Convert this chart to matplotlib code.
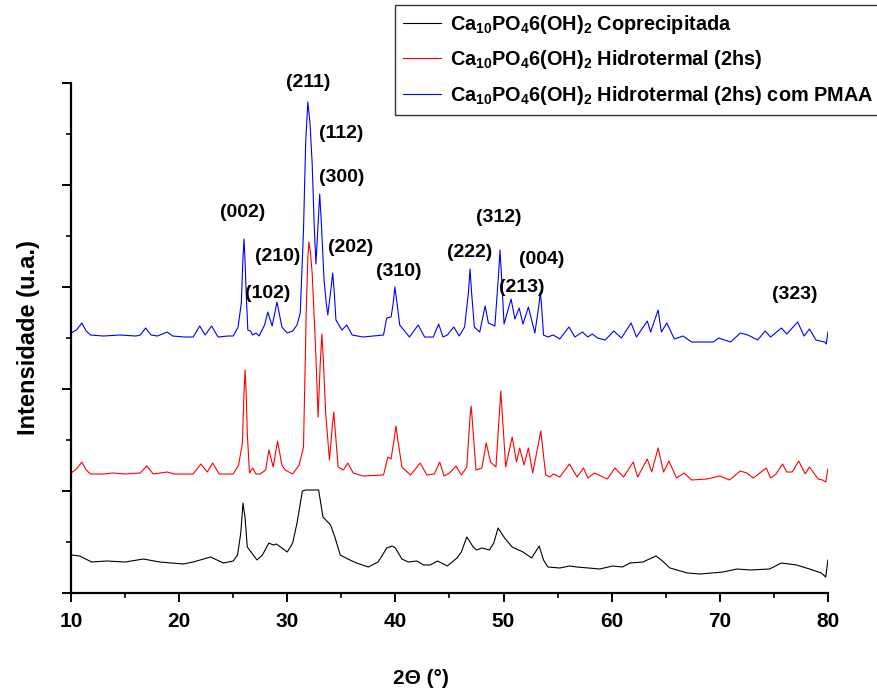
import matplotlib
matplotlib.use("Agg")
import matplotlib.pyplot as plt
from matplotlib.ticker import MultipleLocator

plt.rcParams['font.family'] = ['Liberation Sans', 'DejaVu Sans']
plt.rcParams['mathtext.fontset'] = 'custom'
plt.rcParams['mathtext.rm'] = 'Liberation Sans:bold'
plt.rcParams['mathtext.bf'] = 'Liberation Sans:bold'
plt.rcParams['mathtext.default'] = 'bf'

# ---- data (2theta in degrees, intensity in arbitrary units) ----
theta_blue = [10.0, 10.5, 11.0, 11.4, 11.8, 13.0, 14.5, 16.0, 16.4, 16.9, 17.4, 18.0, 18.9, 19.4,
              20.5, 21.3, 21.9, 22.4, 23.0, 23.6, 24.5, 25.0, 25.45, 25.75, 25.9, 26.0, 26.1,
              26.2, 26.35, 26.6, 26.8, 27.1, 27.4, 27.9, 28.2, 28.6, 29.05, 29.5, 30.0, 30.5,
              30.9, 31.2, 31.5, 31.7, 31.9, 32.1, 32.3, 32.5, 32.65, 32.85, 33.0, 33.15, 33.4,
              33.6, 33.75, 34.05, 34.2, 34.35, 34.5, 35.05, 35.5, 36.0, 37.0, 38.0, 38.9,
              39.2, 39.6, 39.8, 39.95, 40.15, 40.4, 41.3, 42.1, 42.7, 43.5, 44.0, 44.4, 44.8,
              45.4, 45.9, 46.4, 46.75, 46.9, 47.05, 47.3, 47.8, 48.3, 48.6, 49.2, 49.55, 49.67,
              49.8, 50.05, 50.7, 51.05, 51.45, 51.8, 52.3, 52.9, 53.3, 53.4, 53.5, 53.7, 54.1,
              54.6, 55.2, 56.05, 56.6, 57.3, 57.8, 58.2, 58.7, 59.4, 60.2, 60.9, 61.8, 62.3,
              63.3, 63.6, 64.3, 64.6, 65.1, 65.8, 66.6, 67.4, 68.5, 69.4, 69.9, 71.0, 71.9,
              72.6, 73.5, 74.2, 74.7, 75.7, 76.2, 77.2, 77.8, 78.3, 78.9, 79.7, 79.85, 80.0]
int_blue = [260, 263, 270, 262, 258, 257, 258, 257, 258, 265, 258, 257, 261, 257,
            256, 256, 267, 258, 267, 256, 257, 257, 266, 290, 335, 354, 330,
            300, 263, 262, 258, 260, 257, 268, 281, 267, 291, 266, 260, 262,
            268, 280, 363, 450, 491, 470, 430, 365, 329, 370, 399, 370, 313,
            290, 278, 305, 320, 300, 273, 263, 268, 258, 256, 257, 258,
            275, 276, 290, 306, 290, 268, 256, 268, 256, 256, 269, 256, 258,
            266, 257, 266, 300, 324, 300, 266, 261, 287, 270, 267, 320, 343,
            320, 269, 294, 274, 285, 269, 286, 260, 290, 301, 290, 258, 256,
            258, 254, 266, 256, 261, 256, 259, 255, 253, 262, 255, 270, 256,
            272, 261, 283, 261, 270, 254, 257, 251, 251, 251, 255, 251, 260,
            258, 253, 262, 256, 265, 259, 271, 257, 264, 253, 251, 249, 261]

theta_red = [10.0, 10.5, 11.0, 11.4, 11.8, 13.0, 13.9, 15.0, 16.4, 17.0, 17.6, 18.9, 19.5, 20.5,
             21.3, 22.0, 22.6, 23.1, 23.7, 25.0, 25.5, 25.85, 26.0, 26.1, 26.2, 26.3, 26.5,
             26.8, 27.1, 27.5, 28.0, 28.3, 28.7, 29.1, 29.5, 29.8, 30.5, 31.1, 31.5, 31.75,
             31.9, 32.0, 32.15, 32.3, 32.6, 32.85, 33.05, 33.2, 33.35, 33.55, 33.9, 34.15,
             34.3, 34.45, 34.7, 35.2, 35.6, 36.1, 37.0, 38.9, 39.3, 39.6, 39.9, 40.05, 40.2,
             40.6, 41.4, 42.3, 42.9, 43.6, 44.1, 44.5, 45.0, 45.6, 46.1, 46.6, 46.9, 47.0,
             47.1, 47.45, 48.0, 48.4, 48.8, 49.3, 49.65, 49.75, 49.85, 50.2, 50.8, 51.2, 51.5,
             51.9, 52.3, 52.7, 53.45, 53.9, 54.3, 54.6, 55.2, 56.1, 56.8, 57.4, 57.8, 58.4,
             59.6, 60.3, 61.1, 62.0, 62.4, 63.3, 63.7, 64.3, 64.8, 65.3, 66.0, 66.7, 67.4,
             68.8, 70.0, 70.9, 71.9, 72.5, 73.1, 74.3, 74.7, 75.2, 75.8, 76.2, 76.7, 77.3,
             77.9, 78.3, 79.1, 79.5, 79.8, 80.0]
int_red = [120, 124, 131, 123, 119, 119, 120, 119, 120, 127, 119, 121, 119, 119,
           119, 129, 121, 130, 119, 119, 128, 150, 200, 223, 200, 160, 120,
           125, 119, 119, 123, 143, 126, 152, 128, 123, 119, 128, 146, 280,
           335, 351, 340, 320, 250, 176, 230, 259, 230, 180, 133, 165,
           181, 160, 126, 123, 130, 120, 117, 118, 136, 134, 155, 167, 155,
           126, 118, 130, 118, 119, 131, 117, 120, 127, 118, 126, 175, 187,
           175, 123, 125, 150, 131, 126, 185, 202, 185, 126, 156, 131, 145,
           128, 145, 120, 162, 118, 116, 119, 116, 129, 116, 125, 115, 120,
           114, 125, 116, 131, 116, 134, 121, 145, 121, 132, 115, 120, 113,
           114, 117, 113, 122, 120, 115, 125, 115, 119, 129, 121, 121, 132,
           119, 126, 114, 113, 111, 124]

theta_black = [10.0, 10.8, 11.9, 13.3, 15.0, 16.7, 18.2, 20.4, 21.3, 22.9, 24.1, 25.0, 25.4,
               25.7, 25.9, 26.1, 26.3, 27.2, 27.7, 28.3, 28.7, 29.0, 30.0, 30.5, 30.9, 31.4,
               31.7, 32.9, 33.3, 34.0, 34.4, 34.9, 35.6, 36.4, 37.5, 38.4, 39.2, 39.7, 40.0,
               40.6, 41.2, 42.0, 42.6, 43.2, 43.9, 44.8, 45.7, 46.1, 46.6, 47.2, 47.5, 48.0,
               48.7, 49.1, 49.5, 50.1, 50.8, 51.8, 52.6, 53.3, 53.7, 54.1, 55.2, 56.1, 56.8,
               58.9, 60.1, 61.0, 61.7, 62.9, 64.1, 64.6, 65.4, 67.0, 68.2, 70.3, 71.6, 72.8,
               74.6, 75.7, 77.1, 78.3, 79.4, 79.8, 80.0]
int_black = [38, 37, 31, 32, 31, 34, 31, 29, 31, 36, 30, 32, 38,
             60, 90, 75, 46, 33, 38, 50, 48, 49, 41, 50, 70, 102,
             103, 103, 76, 68, 56, 38, 34, 30, 26, 31, 45, 47, 45,
             34, 31, 32, 28, 28, 32, 27, 35, 41, 56, 46, 43, 45,
             43, 50, 65, 55, 46, 41, 35, 47, 33, 26, 25, 27, 26,
             24, 27, 26, 30, 31, 37, 33, 25, 20, 19, 21, 24, 23,
             24, 30, 28, 24, 20, 16, 33]

series_labels = [r"Ca$_{10}$PO$_{4}$6(OH)$_{2}$ Coprecipitada",
                 r"Ca$_{10}$PO$_{4}$6(OH)$_{2}$ Hidrotermal (2hs)",
                 r"Ca$_{10}$PO$_{4}$6(OH)$_{2}$ Hidrotermal (2hs) com PMAA"]

hkl_labels = ["(211)", "(112)", "(300)", "(002)", "(210)", "(202)", "(102)",
              "(310)", "(222)", "(312)", "(213)", "(004)", "(323)"]
hkl_theta = [31.9, 35.0, 35.0, 25.9, 29.1, 35.9, 28.2, 40.3, 46.9, 49.6, 51.7, 53.5, 76.9]
hkl_int = [511, 460, 416, 381, 337, 346, 300, 322, 341, 376, 306, 334, 299]

x_ticks = [10, 20, 30, 40, 50, 60, 70, 80]

# ---- figure ----
fig = plt.figure(figsize=(8.77, 6.93), dpi=100)
ax = fig.add_axes([0.081, 0.1443, 0.863, 0.7359])

l1, = ax.plot(theta_black, int_black, color='black', lw=0.8)
l2, = ax.plot(theta_red, int_red, color='#ff0000', lw=0.8)
l3, = ax.plot(theta_blue, int_blue, color='#0000ff', lw=0.8)

ax.set_xlim(10, 80)
ax.set_ylim(0, 510)
ax.set_xticks(x_ticks)
ax.xaxis.set_minor_locator(MultipleLocator(5))
ax.yaxis.set_major_locator(MultipleLocator(102))
ax.yaxis.set_minor_locator(MultipleLocator(51))
ax.set_yticklabels([])

for s in ['top', 'right']:
    ax.spines[s].set_visible(False)
for s in ['left', 'bottom']:
    ax.spines[s].set_linewidth(1.6)

ax.tick_params(which='major', direction='out', length=6.5, width=1.4)
ax.tick_params(which='minor', direction='out', length=3.5, width=1.2)
ax.tick_params(axis='x', labelsize=15, pad=7)
for lab in ax.get_xticklabels():
    lab.set_fontweight('bold')

fig.text(421 / 877, 1 - 679 / 693, "2Θ (°)", fontsize=15, fontweight='bold',
         ha='center', va='center')
fig.text(29 / 877, 1 - 338 / 693, "Intensidade (u.a.)", fontsize=17, fontweight='bold',
         ha='center', va='center', rotation=90)

for t, th, iv in zip(hkl_labels, hkl_theta, hkl_int):
    ax.text(th, iv, t, ha='center', va='center', fontsize=14, fontweight='bold')

leg = fig.legend([l1, l2, l3], series_labels, loc='upper left',
                 bbox_to_anchor=(395 / 877, 1 - 5 / 693), fontsize=14.3,
                 frameon=True, fancybox=False, edgecolor='black', borderaxespad=0,
                 handlelength=1.9, handletextpad=0.45, labelspacing=0.62, borderpad=0.4)
leg.get_frame().set_linewidth(1.0)
for txt in leg.get_texts():
    txt.set_fontweight('bold')

fig.savefig("out.png", dpi=100)
